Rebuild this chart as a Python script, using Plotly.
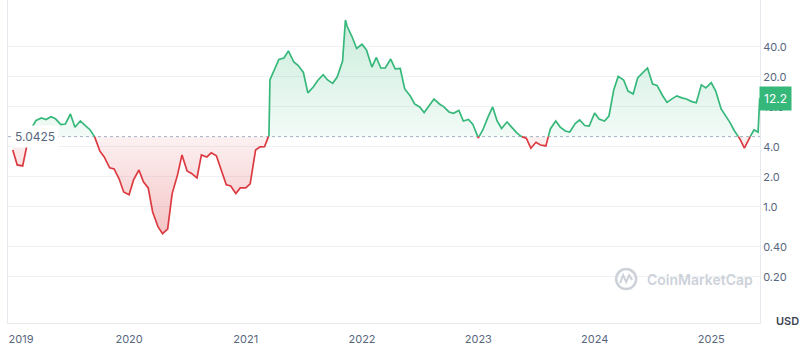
import numpy as np
import pandas as pd
import plotly.graph_objects as go

BASE = 5.0425
LAST = 12.2

dates = [
    "2019-01-01", "2019-01-15", "2019-02-01", "2019-02-15", "2019-03-01", "2019-03-15",
    "2019-04-01", "2019-04-15", "2019-05-01", "2019-05-15", "2019-06-01", "2019-06-15",
    "2019-07-01", "2019-07-15", "2019-08-01", "2019-08-15", "2019-09-01", "2019-09-15",
    "2019-10-01", "2019-10-15", "2019-11-01", "2019-11-15", "2019-12-01", "2019-12-15",
    "2020-01-01", "2020-01-15", "2020-02-01", "2020-02-15", "2020-03-01", "2020-03-15",
    "2020-04-01", "2020-04-15", "2020-05-01", "2020-05-15", "2020-06-01", "2020-06-15",
    "2020-07-01", "2020-07-15", "2020-08-01", "2020-08-15", "2020-09-01", "2020-09-15",
    "2020-10-01", "2020-10-15", "2020-11-01", "2020-11-15", "2020-12-01", "2020-12-15",
    "2021-01-01", "2021-01-15", "2021-02-01", "2021-02-15", "2021-03-01", "2021-03-15",
    "2021-03-18", "2021-04-01", "2021-04-15", "2021-05-01", "2021-05-15", "2021-06-01",
    "2021-06-15", "2021-07-01", "2021-07-15", "2021-08-01", "2021-08-15", "2021-09-01",
    "2021-09-15", "2021-10-01", "2021-10-15", "2021-11-01", "2021-11-10", "2021-11-15",
    "2021-12-01", "2021-12-15", "2022-01-01", "2022-01-15", "2022-02-01", "2022-02-15",
    "2022-03-01", "2022-03-15", "2022-04-01", "2022-04-15", "2022-05-01", "2022-05-15",
    "2022-06-01", "2022-06-15", "2022-07-01", "2022-07-15", "2022-08-01", "2022-08-15",
    "2022-09-01", "2022-09-15", "2022-10-01", "2022-10-15", "2022-11-01", "2022-11-15",
    "2022-12-01", "2022-12-15", "2023-01-01", "2023-01-15", "2023-02-01", "2023-02-15",
    "2023-03-01", "2023-03-15", "2023-04-01", "2023-04-15", "2023-05-01", "2023-05-15",
    "2023-06-01", "2023-06-15", "2023-07-01", "2023-07-15", "2023-08-01", "2023-08-15",
    "2023-09-01", "2023-09-15", "2023-10-01", "2023-10-15", "2023-11-01", "2023-11-15",
    "2023-12-01", "2023-12-15", "2024-01-01", "2024-01-15", "2024-02-01", "2024-02-15",
    "2024-03-01", "2024-03-15", "2024-04-01", "2024-04-15", "2024-05-01", "2024-05-15",
    "2024-06-01", "2024-06-15", "2024-07-01", "2024-07-15", "2024-08-01", "2024-08-15",
    "2024-09-01", "2024-09-15", "2024-10-01", "2024-10-15", "2024-11-01", "2024-11-15",
    "2024-12-01", "2024-12-15", "2025-01-01", "2025-01-15", "2025-02-01", "2025-02-15",
    "2025-03-01", "2025-03-15", "2025-04-01", "2025-04-15", "2025-05-01", "2025-05-15",
    "2025-05-28", "2025-06-02",
]

prices = [
    3.71, 2.63, 2.57, 4.5, 6.16, 7.32,
    7.76, 7.49, 7.98, 7.6, 6.67, 6.75,
    8.49, 6.25, 7.23, 6.59, 5.88, 5.0,
    3.63, 3.16, 2.46, 2.40, 1.90, 1.41,
    1.32, 1.86, 2.34, 1.78, 1.55, 0.889,
    0.63, 0.54, 0.60, 1.35, 2.09, 3.31,
    2.29, 2.16, 1.95, 3.31, 3.16, 3.47,
    3.24, 2.40, 1.66, 1.62, 1.36, 1.55,
    1.55, 1.70, 3.71, 3.98, 4.0, 5.2,
    18.6, 23.9, 29.8, 30.8, 36.3, 28.1,
    25.9, 22.1, 13.8, 15.8, 18.4, 21.0,
    18.6, 17.2, 19.9, 28.8, 74.0, 64.4,
    50.0, 38.4, 42.3, 37.1, 25.0, 31.2,
    24.5, 24.5, 30.1, 24.0, 24.2, 15.1,
    12.9, 10.7, 10.0, 8.79, 10.4, 11.97,
    10.7, 10.0, 8.9, 8.63, 9.2, 7.23,
    7.49, 6.67, 4.89, 5.88, 7.98, 10.0,
    7.23, 6.08, 7.06, 6.28, 5.53, 5.08,
    4.84, 3.86, 4.43, 4.16, 4.07, 6.02,
    7.23, 6.28, 5.74, 5.61, 6.82, 7.40,
    6.52, 6.43, 8.69, 7.57, 7.23, 8.11,
    14.8, 20.2, 18.6, 14.4, 13.5, 19.5,
    22.1, 24.5, 16.9, 16.4, 13.0, 11.1,
    12.1, 12.9, 12.3, 12.0, 11.3, 11.0,
    16.6, 15.5, 17.5, 14.4, 9.53, 8.11,
    6.97, 5.74, 4.78, 3.86, 4.9, 5.88,
    5.6, LAST,
]

tick_vals = [0.2, 0.4, 1, 2, 4, 10, 20, 40]
tick_text = ["0.20", "0.40", "1.0", "2.0", "4.0", "10.0", "20.0", "40.0"]
year_ticks = ["2019-01-27", "2020-01-01", "2021-01-01", "2022-01-01",
              "2023-01-01", "2024-01-01", "2025-01-01"]
year_text = ["2019", "2020", "2021", "2022", "2023", "2024", "2025"]
x_range = ["2018-12-17", "2025-06-03"]

GREEN = "#36b87b"
RED = "#dc3a41"
GRAY = "#58667e"
GRID = "#eff2f5"

# --- split the series at the baseline crossings -------------------------
t = pd.to_datetime(dates).values.astype("int64").astype(float)
v = np.array(prices, dtype=float)
lv = np.log10(v)
lb = np.log10(BASE)
xs, ys = [], []
for i in range(len(v)):
    xs.append(t[i]); ys.append(v[i])
    if i < len(v) - 1 and (lv[i] - lb) * (lv[i + 1] - lb) < 0:
        f = (lb - lv[i]) / (lv[i + 1] - lv[i])
        xs.append(t[i] + f * (t[i + 1] - t[i])); ys.append(BASE)
xd = pd.to_datetime(np.array(xs).astype("int64"))
ys = np.array(ys)
eps = 1e-9
green_line = [y if y >= BASE - eps else None for y in ys]
red_line = [y if y <= BASE + eps else None for y in ys]
green_fill = np.maximum(ys, BASE)
red_fill = np.minimum(ys, BASE)
base_x = [xd[0], xd[-1]]

fig = go.Figure()
fig.add_trace(go.Scatter(x=base_x, y=[BASE, BASE], mode="lines",
                         line=dict(width=0), hoverinfo="skip", showlegend=False))
fig.add_trace(go.Scatter(x=xd, y=green_fill, mode="lines", line=dict(width=0),
                         fill="tonexty",
                         fillgradient=dict(type="vertical",
                                           colorscale=[[0, "rgba(54,184,123,0.06)"],
                                                       [1, "rgba(54,184,123,0.26)"]]),
                         hoverinfo="skip", showlegend=False))
fig.add_trace(go.Scatter(x=base_x, y=[BASE, BASE], mode="lines",
                         line=dict(width=0), hoverinfo="skip", showlegend=False))
fig.add_trace(go.Scatter(x=xd, y=red_fill, mode="lines", line=dict(width=0),
                         fill="tonexty",
                         fillgradient=dict(type="vertical",
                                           colorscale=[[0, "rgba(220,58,65,0.30)"],
                                                       [1, "rgba(220,58,65,0.07)"]]),
                         hoverinfo="skip", showlegend=False))
fig.add_trace(go.Scatter(x=x_range, y=[BASE, BASE], mode="lines",
                         line=dict(color="#a6b0c3", width=1, dash="dot"),
                         hoverinfo="skip", showlegend=False))
fig.add_trace(go.Scatter(x=xd, y=green_line, mode="lines",
                         line=dict(color=GREEN, width=1.7), showlegend=False))
fig.add_trace(go.Scatter(x=xd, y=red_line, mode="lines",
                         line=dict(color=RED, width=1.7), showlegend=False))

fig.update_layout(
    width=800, height=358,
    margin=dict(l=8, r=40, t=0, b=35),
    paper_bgcolor="white", plot_bgcolor="white",
    font=dict(family="Inter, Roboto, sans-serif", size=11, color=GRAY),
    showlegend=False,
    xaxis=dict(type="date", range=x_range, showgrid=False, zeroline=False,
               showline=True, linecolor="#e6e9ee", linewidth=1,
               tickvals=year_ticks, ticktext=year_text, ticks="",
               ticklabelstandoff=6,
               tickfont=dict(size=11, color=GRAY)),
    yaxis=dict(type="log", side="right", range=[-1.161, 2.069],
               tickvals=tick_vals, ticktext=tick_text, ticks="",
               showgrid=True, gridcolor=GRID, gridwidth=1, zeroline=False,
               showline=True, mirror=True, linecolor="#e6e9ee", linewidth=1,
               tickfont=dict(size=11, color=GRAY)),
)

# start price label on the left
fig.add_annotation(xref="paper", x=0, xanchor="left", xshift=3,
                   yref="y", y=np.log10(BASE), text="5.0425", showarrow=False,
                   bgcolor="white", borderpad=3,
                   font=dict(size=12, color=GRAY))
# last price label on the right
fig.add_annotation(xref="paper", x=1, xanchor="left", xshift=-1,
                   yref="y", y=np.log10(LAST), text="12.2", showarrow=False,
                   bgcolor=GREEN, borderpad=4,
                   font=dict(size=12, color="white"))
# currency
fig.add_annotation(xref="paper", x=1, xanchor="left", xshift=14,
                   yref="paper", y=0, yanchor="middle", yshift=2,
                   text="USD", showarrow=False,
                   font=dict(size=11, color="#3d4452", weight=600))
# watermark
fig.add_annotation(xref="paper", x=0.847, xanchor="left",
                   yref="paper", y=0.136, yanchor="middle",
                   text="CoinMarketCap", showarrow=False,
                   font=dict(size=14, color="#cdd2da", weight=600))
fig.add_shape(type="circle", xref="paper", yref="paper",
              xsizemode="pixel", ysizemode="pixel",
              xanchor=0.822, yanchor=0.136,
              x0=-10, x1=10, y0=-10, y1=10,
              line=dict(color="#cdd2da", width=2.5))
fig.add_shape(type="path", xref="paper", yref="paper",
              xsizemode="pixel", ysizemode="pixel",
              xanchor=0.822, yanchor=0.136,
              path="M -6,-4 L -3,4 L 0,-3 L 3,4 L 6,-1",
              line=dict(color="#cdd2da", width=2))

fig.write_html("out.html",
               config={"displayModeBar": False},
               post_script="document.body.style.margin='0';"
                           "document.body.style.padding='0';")
